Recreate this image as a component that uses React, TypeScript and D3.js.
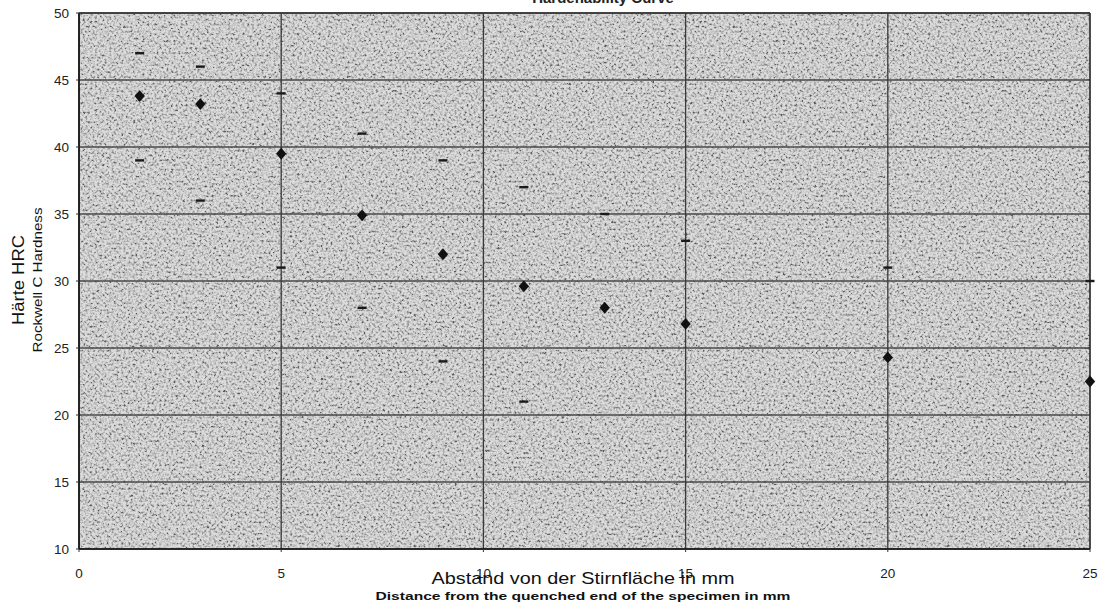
import React from "react";
import * as d3 from "d3";

const distances = [1.5, 3, 5, 7, 9, 11, 13, 15, 20, 25];
const hardness = [43.8, 43.2, 39.5, 34.9, 32.0, 29.6, 28.0, 26.8, 24.3, 22.5];
const maxDistances = [1.5, 3, 5, 7, 9, 11, 13, 15, 20, 25];
const maxHardness = [47, 46, 44, 41, 39, 37, 35, 33, 31, 30];
const minDistances = [1.5, 3, 5, 7, 9, 11];
const minHardness = [39, 36, 31, 28, 24, 21];
const xTicks = [0, 5, 10, 15, 20, 25];
const yTicks = [10, 15, 20, 25, 30, 35, 40, 45, 50];

const W = 1102;
const H = 605;
const M = { left: 79, right: 1090, top: 13, bottom: 549 };

export default function App() {
  const x = d3.scaleLinear().domain([0, 25]).range([M.left, M.right]);
  const y = d3.scaleLinear().domain([10, 50]).range([M.bottom, M.top]);
  const symType: any = (d3 as any).symbolDiamond2 || d3.symbolDiamond;
  const diamond = d3.symbol().type(symType).size(68)();
  const font = "Arial, 'Liberation Sans', sans-serif";

  return (
    <svg
      width={W}
      height={H}
      style={{ position: "absolute", left: 0, top: 0, background: "#fff" }}
      fontFamily={font}
    >
      <defs>
        <filter id="noise" x="0" y="0" width="100%" height="100%" filterUnits="objectBoundingBox">
          <feTurbulence type="fractalNoise" baseFrequency="0.42" numOctaves="2" seed="7" result="t" />
          <feColorMatrix
            type="matrix"
            in="t"
            values="2.8 0 0 0 -0.68  2.8 0 0 0 -0.68  2.8 0 0 0 -0.68  0 0 0 0 1"
          />
        </filter>
      </defs>

      <text x={603} y={3} textAnchor="middle" fontSize={15} fontWeight="bold" fill="#222">
        Hardenability Curve
      </text>

      {/* plot background */}
      <rect x={M.left} y={M.top} width={M.right - M.left} height={M.bottom - M.top} fill="#bababa" />
      <rect
        x={M.left}
        y={M.top}
        width={M.right - M.left}
        height={M.bottom - M.top}
        fill="#888"
        filter="url(#noise)"
        opacity={0.5}
      />

      {/* grid */}
      {yTicks.map((t) => (
        <line key={"gy" + t} x1={M.left} x2={M.right} y1={y(t)} y2={y(t)} stroke="#4a4a4a" strokeWidth={1.3} />
      ))}
      {xTicks.map((t) => (
        <line key={"gx" + t} x1={x(t)} x2={x(t)} y1={M.top} y2={M.bottom} stroke="#3a3a3a" strokeWidth={1.3} />
      ))}

      {/* axes */}
      <line x1={M.left} x2={M.left} y1={M.top} y2={M.bottom} stroke="#111" strokeWidth={1.6} />
      <line x1={M.left} x2={M.right} y1={M.bottom} y2={M.bottom} stroke="#111" strokeWidth={1.6} />
      <line x1={M.left} x2={M.right} y1={M.top} y2={M.top} stroke="#333" strokeWidth={1.3} />
      <line x1={M.right} x2={M.right} y1={M.top} y2={M.bottom} stroke="#333" strokeWidth={1.3} />

      {yTicks.map((t) => (
        <g key={"ty" + t}>
          <line x1={M.left - 3} x2={M.left} y1={y(t)} y2={y(t)} stroke="#333" />
          <text x={M.left - 10} y={y(t) + 5} textAnchor="end" fontSize={13.5} fill="#222">
            {t}
          </text>
        </g>
      ))}
      {xTicks.map((t) => (
        <g key={"tx" + t}>
          <line x1={x(t)} x2={x(t)} y1={M.bottom} y2={M.bottom + 3} stroke="#333" />
          <text x={x(t)} y={M.bottom + 29} textAnchor="middle" fontSize={13.5} fill="#222">
            {t}
          </text>
        </g>
      ))}

      {/* range dashes */}
      {maxDistances.map((d, i) => (
        <line
          key={"mx" + i}
          x1={x(d) - 4.5}
          x2={x(d) + 4.5}
          y1={y(maxHardness[i])}
          y2={y(maxHardness[i])}
          stroke="#1a1a1a"
          strokeWidth={2.4}
        />
      ))}
      {minDistances.map((d, i) => (
        <line
          key={"mn" + i}
          x1={x(d) - 4.5}
          x2={x(d) + 4.5}
          y1={y(minHardness[i])}
          y2={y(minHardness[i])}
          stroke="#1a1a1a"
          strokeWidth={2.4}
        />
      ))}

      {/* diamonds */}
      {distances.map((d, i) => (
        <path
          key={"p" + i}
          d={diamond || ""}
          transform={`translate(${x(d)},${y(hardness[i])}) scale(1,1.15)`}
          fill="#111"
        />
      ))}

      {/* axis titles */}
      <text x={583} y={584} textAnchor="middle" fontSize={17} fill="#111" textLength={303} lengthAdjust="spacingAndGlyphs">
        Abstand von der Stirnfläche in mm
      </text>
      <text x={583} y={600} textAnchor="middle" fontSize={11} fontWeight="bold" fill="#111" textLength={415} lengthAdjust="spacingAndGlyphs">
        Distance from the quenched end of the specimen in mm
      </text>
      <text transform="translate(24,280) rotate(-90)" textAnchor="middle" fontSize={16.5} fill="#111" textLength={90} lengthAdjust="spacingAndGlyphs">
        Härte HRC
      </text>
      <text transform="translate(42,280) rotate(-90)" textAnchor="middle" fontSize={12} fill="#111" textLength={145} lengthAdjust="spacingAndGlyphs">
        Rockwell C Hardness
      </text>
    </svg>
  );
}
